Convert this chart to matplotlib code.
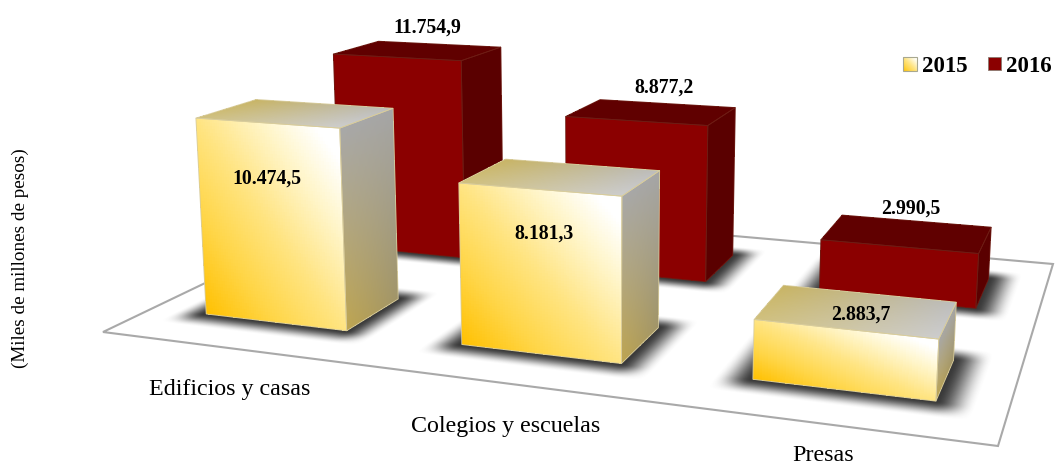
import numpy as np
import matplotlib
matplotlib.use('Agg')
import matplotlib.pyplot as plt
from matplotlib.patches import Polygon

categories = ['Edificios y casas', 'Colegios y escuelas', 'Presas']
values_2015 = [10474.5, 8181.3, 2883.7]
values_2016 = [11754.9, 8877.2, 2990.5]
labels_2015 = ['10.474,5', '8.181,3', '2.883,7']
labels_2016 = ['11.754,9', '8.877,2', '2.990,5']
legend_names = ['2015', '2016']

# floor corners on the page: front left, front right, back right, back left
floor_px = [(103, 333), (998, 447), (1053, 265), (370, 205)]
vertical_vp = (600.0, 7800.0)
height_k = 0.0189 / 7500.0
bar_w = 0.565
bar_d = 0.40
bar_left = 0.222
n_cat = 3
n_ser = 2

plt.rcParams['font.family'] = ['Liberation Serif', 'DejaVu Serif']


def floorMatrix(pts):
    # unit square to page, solved from the four floor corners
    A = []
    b = []
    for (u, v), (x, y) in zip([(0, 0), (1, 0), (1, 1), (0, 1)], pts):
        A.append([u, v, 1, 0, 0, 0, -u * x, -v * x])
        b.append(x)
        A.append([0, 0, 0, u, v, 1, -u * y, -v * y])
        b.append(y)
    h = np.linalg.solve(np.array(A, float), np.array(b, float))
    return np.array([[h[0], h[1], h[2]], [h[3], h[4], h[5]], [h[6], h[7], 1.0]])


H = floorMatrix(floor_px)
H_inv = np.linalg.inv(H)


def project(u, v, z):
    # u in categories, v in series, z in value units
    u = np.asarray(u, float) / n_cat
    v = np.asarray(v, float) / n_ser
    z = np.asarray(z, float)
    X = H[0, 0] * u + H[0, 1] * v + H[0, 2] - z * height_k * vertical_vp[0]
    Y = H[1, 0] * u + H[1, 1] * v + H[1, 2] - z * height_k * vertical_vp[1]
    W = H[2, 0] * u + H[2, 1] * v + H[2, 2] - z * height_k
    return X / W, Y / W


def bilinear(c00, c10, c01, c11, s, r):
    c00, c10, c01, c11 = [np.array(c, float) / 255.0 for c in (c00, c10, c01, c11)]
    s = s[..., None]
    r = r[..., None]
    return (1 - s) * (1 - r) * c00 + s * (1 - r) * c10 + (1 - s) * r * c01 + s * r * c11


def drawFace(ax, p0, p1, p2, p3, colorFn, edge, zorder, n=60):
    # p0-p1 is the bottom side, p3-p2 the top side of the face
    s, r = np.meshgrid(np.linspace(0, 1, n + 1), np.linspace(0, 1, n + 1))
    p = [np.array(q, float) for q in (p0, p1, p2, p3)]
    uvz = [(1 - s) * (1 - r) * p[0][i] + s * (1 - r) * p[1][i] + s * r * p[2][i] + (1 - s) * r * p[3][i]
           for i in range(3)]
    x, y = project(*uvz)
    sc = (s[:-1, :-1] + s[1:, 1:]) / 2
    rc = (r[:-1, :-1] + r[1:, 1:]) / 2
    ax.pcolormesh(x, y, colorFn(sc, rc), shading='flat', antialiased=False,
                  linewidth=0, zorder=zorder, rasterized=True)
    corners = [project(*q) for q in p]
    ax.add_patch(Polygon(corners, closed=True, fill=False, edgecolor=edge, linewidth=0.6, zorder=zorder + 0.1))


def yellowFront(s, r):
    t = (s + r) / 2
    stops = [0, 0.25, 0.5, 0.75, 0.92, 1]
    rr = np.interp(t, stops, [255, 255, 255, 255, 255, 255])
    gg = np.interp(t, stops, [192, 213, 228, 246, 255, 255])
    bb = np.interp(t, stops, [0, 70, 130, 205, 255, 255])
    return np.dstack([rr, gg, bb]) / 255.0


def yellowSide(s, r):
    return bilinear((190, 165, 80), (160, 148, 105), (168, 168, 168), (165, 165, 165), s, r)


def yellowTop(s, r):
    return bilinear((208, 192, 125), (205, 205, 205), (200, 180, 100), (188, 188, 188), s, r)


def flat(color):
    def fn(s, r):
        return np.ones(s.shape + (3,)) * np.array(color) / 255.0
    return fn


def ramp(d, m):
    t = np.clip(d / m, 0, 1)
    return t * t * (3 - 2 * t)


def drawShadow(ax, u0, u1, v0, v1, zorder):
    # soft dark patch on the floor, evaluated per page pixel
    mu = 0.12
    mv = 0.14
    cx, cy = project(np.array([u0 - mu, u1 + mu, u1 + mu, u0 - mu]), np.array([v0 - mv, v0 - mv, v1 + mv, v1 + mv]), 0.0)
    x0, x1 = int(cx.min()) - 1, int(cx.max()) + 2
    y0, y1 = int(cy.min()) - 1, int(cy.max()) + 2
    px, py = np.meshgrid(np.arange(x0, x1) + 0.5, np.arange(y0, y1) + 0.5)
    w = H_inv[2, 0] * px + H_inv[2, 1] * py + H_inv[2, 2]
    uc = (H_inv[0, 0] * px + H_inv[0, 1] * py + H_inv[0, 2]) / w * n_cat
    vc = (H_inv[1, 0] * px + H_inv[1, 1] * py + H_inv[1, 2]) / w * n_ser
    a = ramp(uc - (u0 - mu), mu) * ramp((u1 + mu) - uc, mu) * ramp(vc - (v0 - mv), mv) * ramp((v1 + mv) - vc, mv)
    rgba = np.zeros(a.shape + (4,))
    rgba[..., :3] = 0.22
    rgba[..., 3] = a
    ax.imshow(rgba, extent=(x0, x1, y1, y0), origin='upper', aspect='auto', interpolation='bilinear', zorder=zorder)


def drawBar(ax, i, j, value, kind, zorder):
    u0 = i + bar_left
    u1 = u0 + bar_w
    v0 = j + (1 - bar_d) / 2
    v1 = v0 + bar_d
    drawShadow(ax, u0, u1, v0, v1, zorder)
    if kind == 'yellow':
        front, side, top, edge = yellowFront, yellowSide, yellowTop, '#d8cc9c'
    else:
        front, side, top, edge = flat((139, 0, 0)), flat((90, 0, 0)), flat((96, 0, 0)), '#6e1c14'
    drawFace(ax, (u1, v0, 0), (u1, v1, 0), (u1, v1, value), (u1, v0, value), side, edge, zorder + 1)
    drawFace(ax, (u0, v0, value), (u1, v0, value), (u1, v1, value), (u0, v1, value), top, edge, zorder + 1)
    drawFace(ax, (u0, v0, 0), (u1, v0, 0), (u1, v0, value), (u0, v0, value), front, edge, zorder + 1)


fig = plt.figure(figsize=(10.55, 4.64), dpi=100)
ax = fig.add_axes([0, 0, 1, 1])
ax.axis('off')

floor = [project(*q) for q in [(0, 0, 0), (n_cat, 0, 0), (n_cat, n_ser, 0), (0, n_ser, 0)]]
ax.add_patch(Polygon(floor, closed=True, facecolor='white', edgecolor='#a9a9a9', linewidth=1.5, zorder=1))

for i in range(n_cat):
    drawBar(ax, i, 1, values_2016[i], 'red', 10 + i)
for i in range(n_cat):
    drawBar(ax, i, 0, values_2015[i], 'yellow', 20 + i)

# value labels, offset in page pixels from the centre of each bar top
offsets_2015 = [(-28, 65), (-15, 56), (5, 3)]
offsets_2016 = [(10, -24), (14, -25), (5, -26)]
for i in range(n_cat):
    x, y = project(i + 0.5, 0.5, values_2015[i])
    ax.text(x + offsets_2015[i][0], y + offsets_2015[i][1], labels_2015[i], fontsize=14.2, fontweight='bold',
            ha='center', va='center', zorder=40)
    x, y = project(i + 0.5, 1.5, values_2016[i])
    ax.text(x + offsets_2016[i][0], y + offsets_2016[i][1], labels_2016[i], fontsize=14.2, fontweight='bold',
            ha='center', va='center', zorder=40)

label_drop = [41, 42, 31]
for i in range(n_cat):
    x, y = project(i + 0.5, 0, 0)
    ax.text(x + 2, y + label_drop[i], categories[i], fontsize=17.3, ha='center', va='center', zorder=40)

ax.text(20, 258, '(Miles de millones de pesos)', fontsize=13.8, rotation=90, ha='center', va='center')

# legend
s, r = np.meshgrid(np.linspace(0, 1, 15), np.linspace(0, 1, 15))
rows = yellowFront((s[:-1, :-1] + s[1:, 1:]) / 2, 1 - (r[:-1, :-1] + r[1:, 1:]) / 2)
ax.pcolormesh(903 + 14 * s, 58 + 14 * r, rows, shading='flat', antialiased=False, linewidth=0, zorder=30)
ax.add_patch(Polygon([(903, 58), (917, 58), (917, 72), (903, 72)], closed=True, fill=False,
                     edgecolor='#a8a890', linewidth=0.8, zorder=31))
ax.add_patch(Polygon([(988, 58), (1001, 58), (1001, 71), (988, 71)], closed=True, facecolor='#8b0000',
                     edgecolor='#8a7a70', linewidth=0.6, zorder=31))
ax.text(922, 64, legend_names[0], fontsize=16.5, fontweight='bold', ha='left', va='center_baseline', zorder=40)
ax.text(1006, 64, legend_names[1], fontsize=16.5, fontweight='bold', ha='left', va='center_baseline', zorder=40)

ax.set_xlim(0, 1055)
ax.set_ylim(464, 0)
fig.savefig('out.png', dpi=100)
